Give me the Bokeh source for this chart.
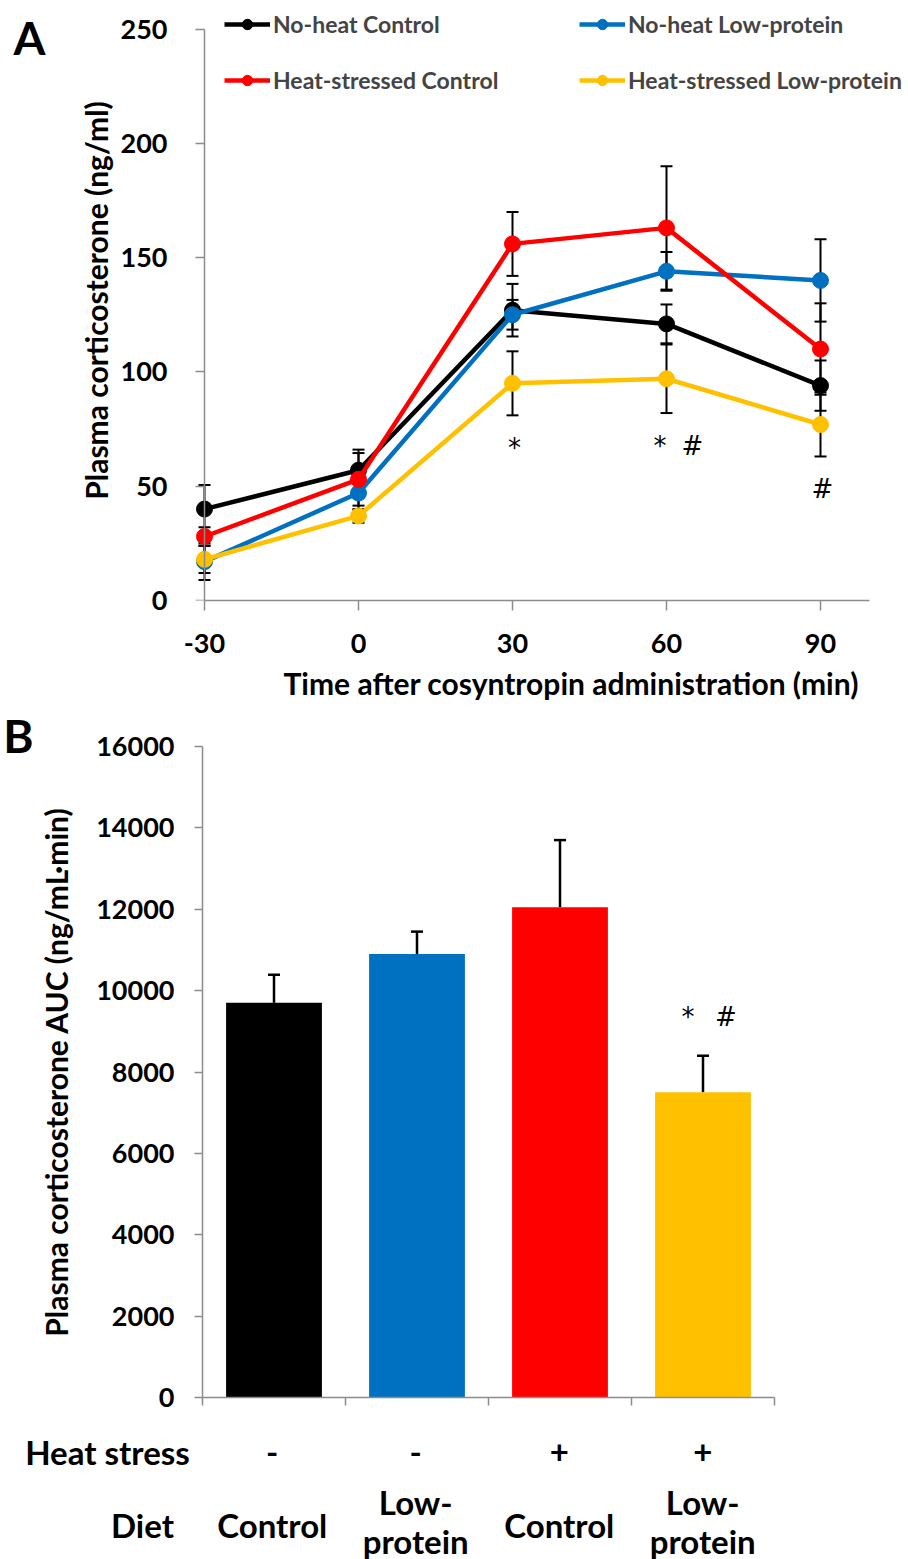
from bokeh.plotting import figure
from bokeh.models import (ColumnDataSource, Range1d, FixedTicker, Whisker, TeeHead,
                          Legend, LegendItem, Label, LinearAxis, Title)
from bokeh.layouts import column, row
from bokeh.embed import file_html
from bokeh.resources import INLINE
from bokeh.core.properties import value

# ---------------- data ----------------
time_min = [-30, 0, 30, 60, 90]
time_labels = {-30: "-30"}
group_labels = ["No-heat Control", "No-heat Low-protein",
                "Heat-stressed Control", "Heat-stressed Low-protein"]
group_colors = ["#000000", "#0070C0", "#FF0000", "#FFC000"]

mean_nh_control = [40, 57, 127, 121, 94]
se_nh_control = [10.5, 9, 11.5, 8.5, 11]
mean_nh_lowprot = [17, 47, 125, 144, 140]
se_nh_lowprot = [8, 7.5, 6.5, 8.5, 18]
mean_hs_control = [28, 53, 156, 163, 110]
se_hs_control = [4, 11.5, 14, 27, 20]
mean_hs_lowprot = [18, 37, 95, 97, 77]
se_hs_lowprot = [6, 3, 14, 15, 14]

y_ticks_a = [0, 50, 100, 150, 200, 250]
sig_a_times = [30, 60, 60, 90]
sig_a_marks = ["*", "*", "#", "#"]

bar_heat = ["-", "-", "+", "+"]
bar_diet = ["Control", "Low-protein", "Control", "Low-protein"]
row_titles = ["Heat stress", "Diet"]
auc_mean = [9700, 10900, 12050, 7500]
auc_se = [690, 550, 1650, 900]
y_ticks_b = [0, 2000, 4000, 6000, 8000, 10000, 12000, 14000, 16000]
sig_b_group = 4
sig_b_marks = ["*", "#"]

# ---------------- style / layout ----------------
FONT = "Lato"
MARK_FONT = "DejaVu Sans"
GRAY = "#8c8c8c"
W = 908
BASE_FIX = 10          # alphabetic-baseline correction (px)


def no_align(p):
    if "frame_align" in p.properties():
        p.frame_align = False
    return p


def style_axis(ax, tick_out):
    ax.axis_line_color = GRAY
    ax.axis_line_width = 1.5
    ax.major_tick_line_color = GRAY
    ax.major_tick_line_width = 1.5
    ax.major_tick_out = tick_out
    ax.major_tick_in = 0
    ax.minor_tick_line_color = None
    ax.major_label_text_font = FONT
    ax.major_label_text_font_style = "bold"
    ax.major_label_text_font_size = "27px"
    ax.major_label_text_color = "black"
    ax.axis_label_text_font = FONT
    ax.axis_label_text_font_style = "bold"
    ax.axis_label_text_font_size = "30px"
    ax.axis_label_text_color = "black"


def mark_label(x, y, text, x_offset=0):
    return Label(x=x, y=y, text=text, x_offset=x_offset, text_font=MARK_FONT,
                 text_font_size="26px", text_align="center",
                 text_baseline="alphabetic", text_color="black")


def bare_figure(width, height, xr, yr):
    f = figure(width=width, height=height, x_range=xr, y_range=yr,
               output_backend="svg", toolbar_location=None,
               min_border_left=0, min_border_right=0, min_border_top=0, min_border_bottom=0)
    f.axis.visible = False
    f.grid.visible = False
    f.outline_line_color = None
    return no_align(f)


def letter_figure(letter, width, height, center_x_page, baseline_page, top_page):
    f = bare_figure(width, height, Range1d(0, width), Range1d(0, height))
    f.text(x=[center_x_page], y=[height - (baseline_page - BASE_FIX - top_page)], text=[letter],
           text_font=value(FONT), text_font_style="bold", text_font_size=value("46px"),
           text_align="center", text_baseline="alphabetic", text_color="black")
    return f


# ================= Panel A =================
FA_W = 50
A_H, A_BL, A_BR, A_BT, A_BB = 708, 183 - FA_W, 0, 0, 108
A_FRAME_L = FA_W + A_BL                     # 191
A_FRAME_B = A_H - A_BB                      # 600
A_AXIS_X = 204
A_AXIS_END = 869
PX_PER_MIN = 154 / 30
PX_PER_UNIT_A = 2.286

a_x0 = time_min[0] - (A_AXIS_X - A_FRAME_L) / PX_PER_MIN
a_x1 = a_x0 + (W - FA_W - A_BL - A_BR) / PX_PER_MIN
a_axis_end = a_x0 + (A_AXIS_END - A_FRAME_L) / PX_PER_MIN
a_y1 = (A_H - A_BT - A_BB) / PX_PER_UNIT_A

pa = figure(width=W - FA_W, height=A_H, x_range=Range1d(a_x0, a_x1),
            y_range=Range1d(0, a_y1),
            output_backend="svg", toolbar_location=None,
            min_border_left=A_BL, min_border_right=A_BR,
            min_border_top=A_BT, min_border_bottom=A_BB)
no_align(pa)
pa.grid.visible = False
pa.outline_line_color = None

# labels axis (at frame edge, no line/ticks)
ya_lab = pa.yaxis[0]
style_axis(ya_lab, 0)
ya_lab.axis_line_color = None
ya_lab.major_tick_line_color = None
ya_lab.ticker = FixedTicker(ticks=y_ticks_a)
ya_lab.major_label_standoff = 16
ya_lab.axis_label = "Plasma corticosterone (ng/ml)"
ya_lab.axis_label_standoff = 4

# visible axis line/ticks at t = -30
ya_line = LinearAxis(fixed_location=time_min[0], ticker=FixedTicker(ticks=y_ticks_a),
                     bounds=(y_ticks_a[0], y_ticks_a[-1]))
style_axis(ya_line, 9)
ya_line.major_label_overrides = {t: "" for t in y_ticks_a}
pa.add_layout(ya_line, "left")

xa_ax = pa.xaxis[0]
style_axis(xa_ax, 10)
xa_ax.ticker = FixedTicker(ticks=time_min)
xa_ax.major_label_overrides = time_labels
xa_ax.bounds = (time_min[0], a_axis_end)
xa_ax.major_label_standoff = 23

pa.add_layout(Title(text="Time after cosyntropin administration (min)", align="left",
                    offset=283 - A_FRAME_L, standoff=15, text_font=FONT,
                    text_font_style="bold", text_font_size="30px", text_color="black"),
              "below")

series = [
    (mean_nh_control, se_nh_control),
    (mean_nh_lowprot, se_nh_lowprot),
    (mean_hs_control, se_hs_control),
    (mean_hs_lowprot, se_hs_lowprot),
]

line_r, dot_r = [], []
for (m, s), col in zip(series, group_colors):
    src = ColumnDataSource(dict(t=time_min, m=m,
                                lo=[a - b for a, b in zip(m, s)],
                                hi=[a + b for a, b in zip(m, s)]))
    pa.add_layout(Whisker(source=src, base="t", lower="lo", upper="hi",
                          line_color="black", line_width=2,
                          upper_head=TeeHead(size=12, line_color="black", line_width=2),
                          lower_head=TeeHead(size=12, line_color="black", line_width=2)))
    line_r.append(pa.line("t", "m", source=src, line_color=col, line_width=4.5))
    dot_r.append(pa.scatter("t", "m", source=src, marker="circle", size=16,
                            fill_color=col, line_color=col))

# legend: two columns
ITEM_H, SPACING = 26, 30
leg_h = 2 * ITEM_H + SPACING
legend_cols = [[0, 2], [1, 3]]
legend_left_px = [224, 579]
row1_center_px = 25
for idxs, lx in zip(legend_cols, legend_left_px):
    leg = Legend(items=[LegendItem(label=group_labels[i], renderers=[line_r[i], dot_r[i]])
                        for i in idxs],
                 location=(lx - A_FRAME_L, A_FRAME_B - (row1_center_px - ITEM_H / 2 + leg_h)),
                 orientation="vertical", glyph_width=46, glyph_height=ITEM_H,
                 label_height=ITEM_H, label_standoff=3, spacing=SPACING - 2,
                 padding=0, margin=0, border_line_color=None, background_fill_alpha=0,
                 label_text_font=FONT, label_text_font_style="bold",
                 label_text_font_size="23px")
    pa.add_layout(leg)

# significance marks
lows = [min(m[k] - s[k] for m, s in series) for k in range(len(time_min))]
counts = {t: sig_a_times.count(t) for t in sig_a_times}
seen = {}
for t, mark in zip(sig_a_times, sig_a_marks):
    k = time_min.index(t)
    j = seen.get(t, 0)
    seen[t] = j + 1
    dx = 2 if counts[t] == 1 else -6.5 + 32.5 * j
    pa.add_layout(mark_label(t, lows[k] - (43 - BASE_FIX) / PX_PER_UNIT_A, mark, x_offset=dx))

fa = letter_figure("A", FA_W, A_H, 29, 47, 0)

# ================= Panel B =================
FB_W = 35
B_TOP = A_H                                   # 708
B_FRAME_TOP = 746
B_FRAME_BOT = 1397
B_BL, B_BR, B_BB = 200 - FB_W, W - 774, 20
B_BT = B_FRAME_TOP - B_TOP
B_H = B_FRAME_BOT + B_BB - B_TOP
B_FRAME_L = FB_W + B_BL                       # 200
B_FRAME_W = W - FB_W - B_BL - B_BR            # 574
B_FRAME_H = B_FRAME_BOT - B_FRAME_TOP         # 651
n_groups = len(auc_mean)
px_per_cat = B_FRAME_W / n_groups
y_top_b = y_ticks_b[-1]

pb = figure(width=W - FB_W, height=B_H, x_range=Range1d(0.5, n_groups + 0.5),
            y_range=Range1d(0, y_top_b),
            output_backend="svg", toolbar_location=None,
            min_border_left=B_BL, min_border_right=B_BR,
            min_border_top=B_BT, min_border_bottom=B_BB)
no_align(pb)
pb.grid.visible = False
pb.outline_line_color = None

yb_ax = pb.yaxis[0]
style_axis(yb_ax, 8)
yb_ax.ticker = FixedTicker(ticks=y_ticks_b)
yb_ax.major_label_standoff = 20
yb_ax.axis_label = "Plasma corticosterone AUC (ng/mL\u00b7min)"
yb_ax.axis_label_standoff = 19

b_bounds = [i + 0.5 for i in range(n_groups + 1)]
xb_ax = pb.xaxis[0]
style_axis(xb_ax, 8)
xb_ax.ticker = FixedTicker(ticks=b_bounds)
xb_ax.major_label_overrides = {t: "" for t in b_bounds}

xs = list(range(1, n_groups + 1))
bsrc = ColumnDataSource(dict(x=xs, top=auc_mean, color=group_colors,
                             hi=[a + b for a, b in zip(auc_mean, auc_se)]))
pb.add_layout(Whisker(source=bsrc, base="x", lower="top", upper="hi",
                      line_color="black", line_width=2.5,
                      upper_head=TeeHead(size=12, line_color="black", line_width=2.5),
                      lower_head=None))
pb.vbar(x="x", top="top", width=0.67, source=bsrc, fill_color="color", line_color=None)

gi = sig_b_group - 1
for j, mark in enumerate(sig_b_marks):
    pb.add_layout(mark_label(sig_b_group,
                             auc_mean[gi] + auc_se[gi] + (29 + BASE_FIX) * y_top_b / B_FRAME_H,
                             mark, x_offset=-15 + 38 * j))

fb = letter_figure("B", FB_W, B_H, 18, 745, B_TOP)

# ================= category table under panel B =================
C_TOP = B_TOP + B_H                           # 1417
C_H = 1559 - C_TOP
c_x0 = 0.5 - B_FRAME_L / px_per_cat
c_x1 = c_x0 + W / px_per_cat
pc = bare_figure(W, C_H, Range1d(c_x0, c_x1), Range1d(0, C_H))


def xc(px):
    return c_x0 + px / px_per_cat


def yc(py):
    return C_TOP + C_H - (py - BASE_FIX)


tx, ty, tt = [], [], []
for i, h in enumerate(bar_heat):
    tx.append(xs[i]); ty.append(yc(1461)); tt.append(h)
for i, d in enumerate(bar_diet):
    parts = d.split("-", 1)
    if len(parts) == 1:
        tx.append(xs[i]); ty.append(yc(1534)); tt.append(d)
    else:
        tx += [xs[i], xs[i]]; ty += [yc(1511), yc(1550)]; tt += [parts[0] + "-", parts[1]]
tx += [xc(107), xc(142)]
ty += [yc(1461), yc(1534)]
tt += row_titles
pc.text(x=tx, y=ty, text=tt, text_font=value(FONT), text_font_style="bold",
        text_font_size=value("33px"), text_align="center", text_baseline="alphabetic",
        text_color="black")

layout = column(row(fa, pa), row(fb, pb), pc)
open("out.html", "w").write(file_html(layout, INLINE))
